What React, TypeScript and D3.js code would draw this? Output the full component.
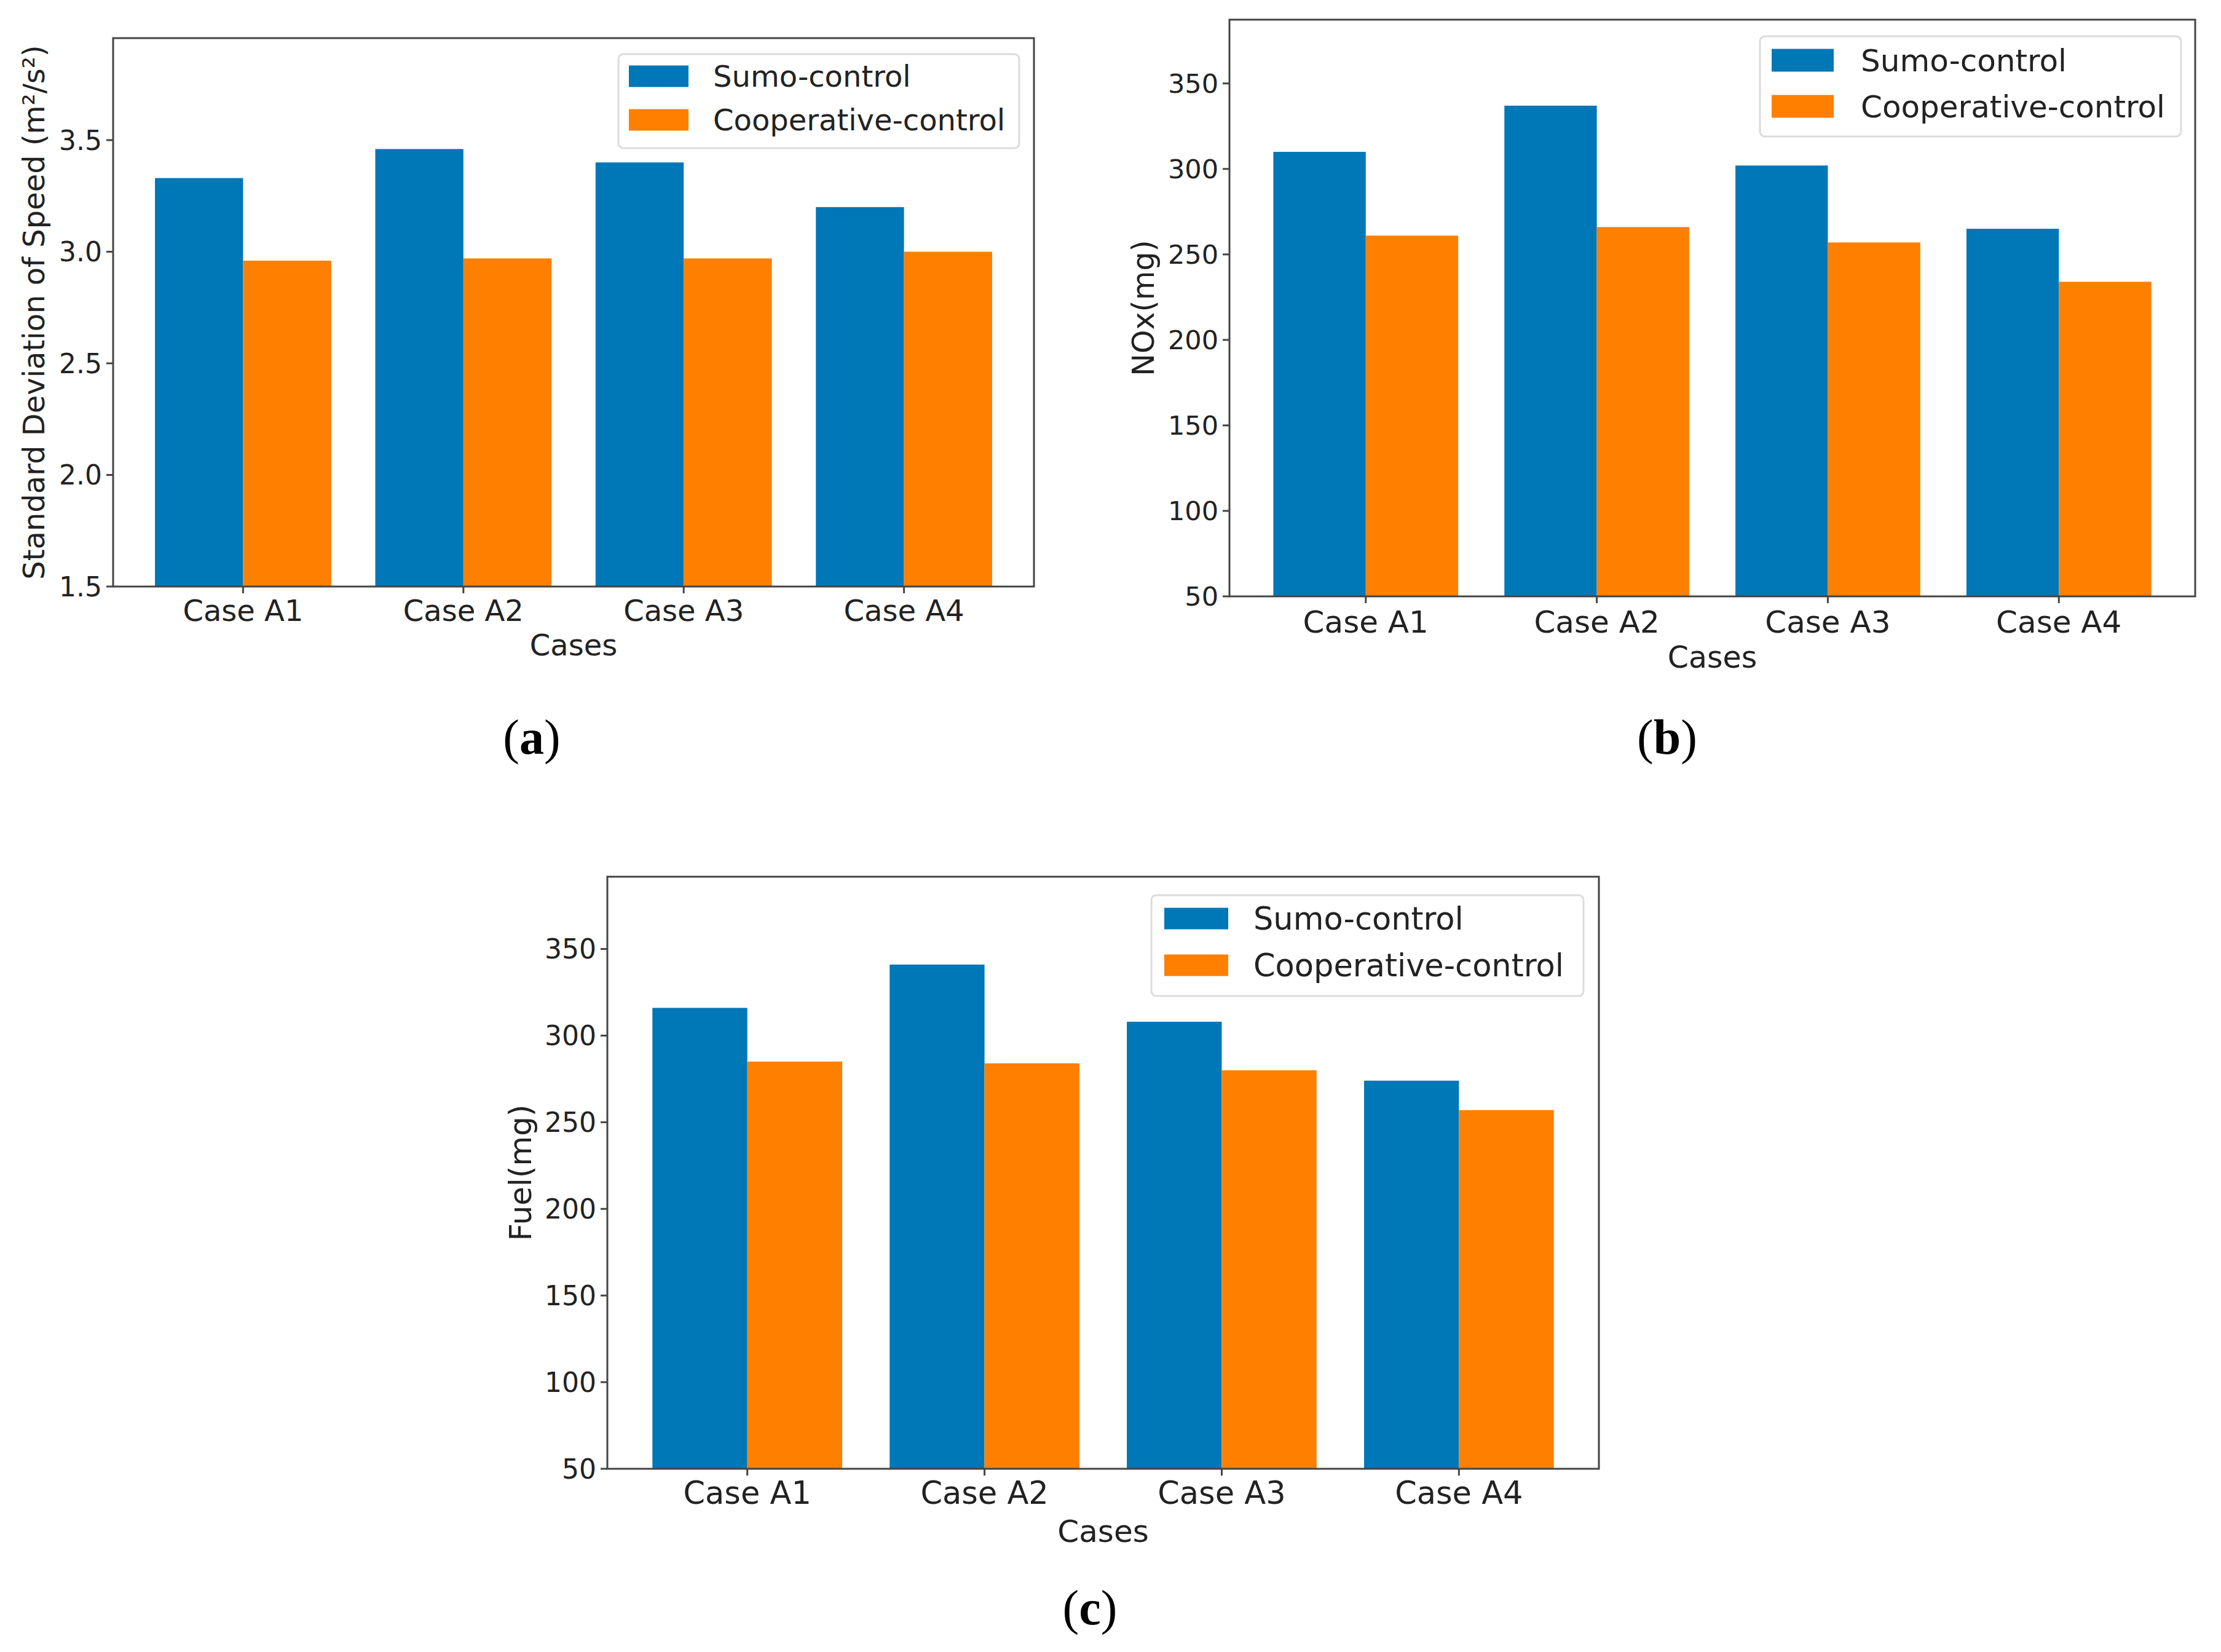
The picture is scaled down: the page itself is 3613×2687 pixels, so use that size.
import React from "react";
import * as d3 from "d3";

const categories = ["Case A1", "Case A2", "Case A3", "Case A4"];
const seriesNames = ["Sumo-control", "Cooperative-control"];
const seriesColors = ["#0077B6", "#FF7F00"];

const speedSumo = [3.33, 3.46, 3.4, 3.2];
const speedCoop = [2.96, 2.97, 2.97, 3.0];
const noxSumo = [310, 337, 302, 265];
const noxCoop = [261, 266, 257, 234];
const fuelSumo = [316, 341, 308, 274];
const fuelCoop = [285, 284, 280, 257];

const speedTicks = [1.5, 2.0, 2.5, 3.0, 3.5];
const massTicks = [50, 100, 150, 200, 250, 300, 350];

const FONT = "'DejaVu Sans', sans-serif";
const SPINE = "#444";

type PanelProps = {
  frame: { l: number; t: number; r: number; b: number };
  yDomain: [number, number];
  yTicks: number[];
  yFmt: (v: number) => string;
  series: number[][];
  yLabel: string;
  yLabelX: number;
  xTickBase: number;
  xLabelBase: number;
  xFont: number;
  yFont: number;
  labelFont: number;
  legend: {
    l: number; t: number; r: number; b: number;
    px: number; pw: number; ph: number; rows: number[]; tx: number; font: number;
  };
};

function Panel(p: PanelProps) {
  const { frame } = p;
  const x = d3.scaleLinear().domain([-0.59, 3.59]).range([frame.l, frame.r]);
  const y = d3.scaleLinear().domain(p.yDomain).range([frame.b, frame.t]);
  const w = 0.4;
  return (
    <g>
      {p.series.map((vals, si) =>
        vals.map((v, i) => {
          const x0 = si === 0 ? x(i - w) : x(i);
          const x1 = si === 0 ? x(i) : x(i + w);
          return (
            <rect
              key={`${si}-${i}`}
              x={x0}
              y={y(v)}
              width={x1 - x0}
              height={y(p.yDomain[0]) - y(v)}
              fill={seriesColors[si]}
            />
          );
        })
      )}
      <rect
        x={frame.l}
        y={frame.t}
        width={frame.r - frame.l}
        height={frame.b - frame.t}
        fill="none"
        stroke={SPINE}
        strokeWidth={3}
      />
      {p.yTicks.map((t) => (
        <g key={`yt${t}`}>
          <line x1={frame.l - 11} x2={frame.l} y1={y(t)} y2={y(t)} stroke={SPINE} strokeWidth={3} />
          <text
            x={frame.l - 18}
            y={y(t)}
            dy="0.36em"
            textAnchor="end"
            fontFamily={FONT}
            fontSize={p.yFont}
            fill="#222"
          >
            {p.yFmt(t)}
          </text>
        </g>
      ))}
      {categories.map((c, i) => (
        <g key={`xt${c}`}>
          <line x1={x(i)} x2={x(i)} y1={frame.b} y2={frame.b + 11} stroke={SPINE} strokeWidth={3} />
          <text
            x={x(i)}
            y={p.xTickBase}
            textAnchor="middle"
            fontFamily={FONT}
            fontSize={p.xFont}
            fill="#222"
          >
            {c}
          </text>
        </g>
      ))}
      <text
        x={(frame.l + frame.r) / 2}
        y={p.xLabelBase}
        textAnchor="middle"
        fontFamily={FONT}
        fontSize={p.labelFont}
        fill="#222"
      >
        Cases
      </text>
      <text
        transform={`translate(${p.yLabelX},${(frame.t + frame.b) / 2}) rotate(-90)`}
        dy="0.36em"
        textAnchor="middle"
        fontFamily={FONT}
        fontSize={p.labelFont}
        fill="#222"
      >
        {p.yLabel}
      </text>
      <rect
        x={p.legend.l}
        y={p.legend.t}
        width={p.legend.r - p.legend.l}
        height={p.legend.b - p.legend.t}
        rx={8}
        fill="white"
        fillOpacity={0.85}
        stroke="#dcdcdc"
        strokeWidth={3}
      />
      {seriesNames.map((n, si) => (
        <g key={n}>
          <rect
            x={p.legend.px}
            y={p.legend.rows[si] - p.legend.ph / 2}
            width={p.legend.pw}
            height={p.legend.ph}
            fill={seriesColors[si]}
          />
          <text
            x={p.legend.tx}
            y={p.legend.rows[si]}
            dy="0.36em"
            fontFamily={FONT}
            fontSize={p.legend.font}
            fill="#222"
          >
            {n}
          </text>
        </g>
      ))}
    </g>
  );
}

function Caption({ x, y, letter }: { x: number; y: number; letter: string }) {
  return (
    <text x={x} y={y} textAnchor="middle" fontFamily="'Liberation Serif', serif" fontSize={80} fill="#000">
      (<tspan fontWeight="bold">{letter}</tspan>)
    </text>
  );
}

export default function App() {
  const f1 = d3.format(".1f");
  const f0 = d3.format("d");
  return (
    <svg
      width={3613}
      height={2687}
      style={{ position: "absolute", left: 0, top: 0, background: "white" }}
    >
      <rect x={0} y={0} width={3613} height={2687} fill="white" />
      <Panel
        frame={{ l: 184, t: 62, r: 1682, b: 954 }}
        yDomain={[1.5, 3.957]}
        yTicks={speedTicks}
        yFmt={f1}
        series={[speedSumo, speedCoop]}
        yLabel="Standard Deviation of Speed (m²/s²)"
        yLabelX={55}
        xTickBase={1010}
        xLabelBase={1066}
        xFont={48}
        yFont={44}
        labelFont={48}
        legend={{ l: 1006, t: 88, r: 1658, b: 241, px: 1023, pw: 97, ph: 35, rows: [124, 195], tx: 1160, font: 48 }}
      />
      <Panel
        frame={{ l: 2000, t: 32, r: 3571, b: 970 }}
        yDomain={[50, 387.3]}
        yTicks={massTicks}
        yFmt={f0}
        series={[noxSumo, noxCoop]}
        yLabel="NOx(mg)"
        yLabelX={1859}
        xTickBase={1029}
        xLabelBase={1086}
        xFont={50}
        yFont={43}
        labelFont={49}
        legend={{ l: 2863, t: 59, r: 3548, b: 222, px: 2882, pw: 101, ph: 37, rows: [98, 173], tx: 3027, font: 50 }}
      />
      <Panel
        frame={{ l: 988, t: 1426, r: 2601, b: 2389 }}
        yDomain={[50, 391.7]}
        yTicks={massTicks}
        yFmt={f0}
        series={[fuelSumo, fuelCoop]}
        yLabel="Fuel(mg)"
        yLabelX={846}
        xTickBase={2446}
        xLabelBase={2508}
        xFont={51}
        yFont={44}
        labelFont={50}
        legend={{ l: 1873, t: 1456, r: 2576, b: 1620, px: 1894, pw: 104, ph: 35, rows: [1494, 1570], tx: 2039, font: 51 }}
      />
      <Caption x={865} y={1226} letter="a" />
      <Caption x={2712} y={1226} letter="b" />
      <Caption x={1773} y={2642} letter="c" />
    </svg>
  );
}
